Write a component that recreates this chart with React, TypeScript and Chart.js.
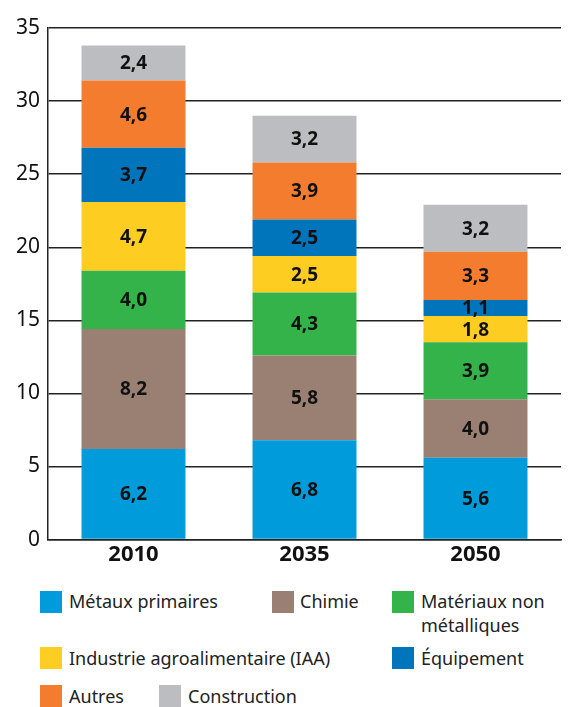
import React, { useEffect, useRef } from "react";
import { Chart, registerables } from "chart.js";

Chart.register(...registerables);

const categories = ["2010", "2035", "2050"];
const seriesNames = [
  "Métaux primaires",
  "Chimie",
  "Matériaux non métalliques",
  "Industrie agroalimentaire (IAA)",
  "Équipement",
  "Autres",
  "Construction",
];
const metaux = [6.2, 6.8, 5.6];
const chimie = [8.2, 5.8, 4.0];
const materiaux = [4.0, 4.3, 3.9];
const iaa = [4.7, 2.5, 1.8];
const equipement = [3.7, 2.5, 1.1];
const autres = [4.6, 3.9, 3.3];
const construction = [2.4, 3.2, 3.2];
const colors = ["#009bdb", "#9a8072", "#34b34a", "#fdcd21", "#0075bc", "#f47c2f", "#bcbdc1"];
const yTicks = [0, 5, 10, 15, 20, 25, 30, 35];

const FONT = "'Noto Sans', sans-serif";

const labelPlugin = {
  id: "segLabels",
  afterDatasetsDraw(chart: any) {
    const ctx = chart.ctx;
    ctx.save();
    ctx.font = `bold 19px ${FONT}`;
    ctx.fillStyle = "#111";
    ctx.textAlign = "center";
    ctx.textBaseline = "middle";
    chart.data.datasets.forEach((ds: any, i: number) => {
      const meta = chart.getDatasetMeta(i);
      meta.data.forEach((bar: any, j: number) => {
        const v = ds.data[j];
        const y = (bar.y + bar.base) / 2;
        ctx.fillText(v.toFixed(1).replace(".", ","), bar.x, y + 1);
      });
    });
    ctx.restore();
  },
};

export default function App() {
  const ref = useRef<HTMLCanvasElement>(null);
  useEffect(() => {
    const all = [metaux, chimie, materiaux, iaa, equipement, autres, construction];
    const chart = new Chart(ref.current!, {
      type: "bar",
      data: {
        labels: categories,
        datasets: all.map((d, i) => ({
          label: seriesNames[i],
          data: d,
          backgroundColor: colors[i],
          borderWidth: 0,
          barPercentage: 0.608,
          categoryPercentage: 1,
        })),
      },
      options: {
        animation: false,
        responsive: false,
        maintainAspectRatio: false,
        layout: { padding: { left: 0, right: 10, top: 28, bottom: 0 } },
        plugins: { legend: { display: false }, tooltip: { enabled: false } },
        scales: {
          x: {
            stacked: true,
            grid: { display: false, drawTicks: false },
            border: { display: true, color: "#222", width: 1.5 },
            ticks: { color: "#111", font: { family: FONT, size: 22, weight: "bold" }, padding: 2 },
          },
          y: {
            stacked: true,
            min: 0,
            max: 35,
            afterBuildTicks: (scale: any) => {
              scale.ticks = yTicks.map((v) => ({ value: v }));
            },
            afterFit: (scale: any) => {
              scale.width = 48;
            },
            grid: { color: "#222", lineWidth: 1.5, drawTicks: false },
            border: { display: true, color: "#222", width: 1.5 },
            ticks: { color: "#111", font: { family: FONT, size: 21 }, padding: 8 },
          },
        },
      },
      plugins: [labelPlugin],
    });
    return () => chart.destroy();
  }, []);

  const sq = (left: number, top: number, color: string) => (
    <div style={{ position: "absolute", left, top, width: 22, height: 22, background: color }} />
  );
  const txt = (left: number, top: number, s: React.ReactNode) => (
    <div
      style={{
        position: "absolute",
        left,
        top,
        fontFamily: FONT,
        fontSize: 18,
        lineHeight: "24px",
        color: "#222",
        whiteSpace: "nowrap",
      }}
    >
      {s}
    </div>
  );

  return (
    <div style={{ position: "absolute", left: 0, top: 0, width: 571, height: 707, background: "#fff" }}>
      <canvas ref={ref} width={571} height={570} style={{ position: "absolute", left: 0, top: 0 }} />
      {sq(40, 591, colors[0])}
      {txt(69, 589, seriesNames[0])}
      {sq(272, 591, colors[1])}
      {txt(300, 589, seriesNames[1])}
      {sq(392, 591, colors[2])}
      {txt(421, 589, <>Matériaux non<br />métalliques</>)}
      {sq(40, 647, colors[3])}
      {txt(69, 646, seriesNames[3])}
      {sq(392, 647, colors[4])}
      {txt(421, 646, seriesNames[4])}
      {sq(40, 685, colors[5])}
      {txt(69, 684, seriesNames[5])}
      {sq(159, 685, colors[6])}
      {txt(188, 684, seriesNames[6])}
    </div>
  );
}
